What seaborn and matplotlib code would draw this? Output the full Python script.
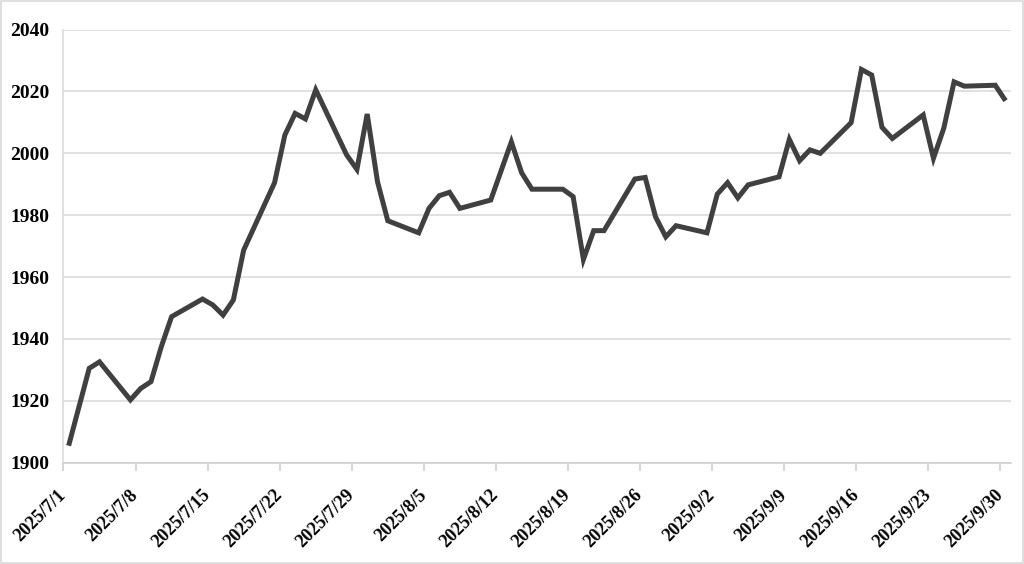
import matplotlib
matplotlib.use("Agg")
import matplotlib.pyplot as plt
import matplotlib.transforms as mtransforms
import seaborn as sns
import pandas as pd
import numpy as np

dates = [
    "2025-07-01", "2025-07-02", "2025-07-03", "2025-07-04",
    "2025-07-07", "2025-07-08", "2025-07-09", "2025-07-10", "2025-07-11",
    "2025-07-14", "2025-07-15", "2025-07-16", "2025-07-17", "2025-07-18",
    "2025-07-21", "2025-07-22", "2025-07-23", "2025-07-24", "2025-07-25",
    "2025-07-28", "2025-07-29", "2025-07-30", "2025-07-31", "2025-08-01",
    "2025-08-04", "2025-08-05", "2025-08-06", "2025-08-07", "2025-08-08",
    "2025-08-11", "2025-08-12", "2025-08-13", "2025-08-14", "2025-08-15",
    "2025-08-18", "2025-08-19", "2025-08-20", "2025-08-21", "2025-08-22",
    "2025-08-25", "2025-08-26", "2025-08-27", "2025-08-28", "2025-08-29",
    "2025-09-01", "2025-09-02", "2025-09-03", "2025-09-04", "2025-09-05",
    "2025-09-08", "2025-09-09", "2025-09-10", "2025-09-11", "2025-09-12",
    "2025-09-15", "2025-09-16", "2025-09-17", "2025-09-18", "2025-09-19",
    "2025-09-22", "2025-09-23", "2025-09-24", "2025-09-25", "2025-09-26",
    "2025-09-29", "2025-09-30",
]
values = [
    1905.5, 1918.0, 1930.5, 1932.6,
    1920.3, 1924.0, 1926.2, 1937.5, 1947.2,
    1952.9, 1951.0, 1947.7, 1952.6, 1968.7,
    1990.5, 2005.9, 2012.9, 2011.1, 2020.5,
    1999.5, 1994.8, 2012.7, 1990.8, 1978.2,
    1974.3, 1982.2, 1986.3, 1987.4, 1982.2,
    1984.9, 1994.3, 2003.7, 1993.7, 1988.4,
    1988.4, 1986.0, 1965.7, 1975.0, 1975.0,
    1991.7, 1992.2, 1979.5, 1973.0, 1976.6,
    1974.3, 1986.8, 1990.5, 1985.6, 1989.8,
    1992.4, 2004.5, 1997.6, 2001.1, 2000.0,
    2009.9, 2027.1, 2025.3, 2008.4, 2004.8,
    2012.4, 1998.4, 2008.1, 2023.1, 2021.7,
    2022.0, 2017.0,
]
tick_dates = ["2025-07-01", "2025-07-08", "2025-07-15", "2025-07-22", "2025-07-29",
              "2025-08-05", "2025-08-12", "2025-08-19", "2025-08-26", "2025-09-02",
              "2025-09-09", "2025-09-16", "2025-09-23", "2025-09-30"]
y_ticks = [1900, 1920, 1940, 1960, 1980, 2000, 2020, 2040]

sns.set_theme(style="white")
plt.rcParams["font.family"] = ["Liberation Serif", "DejaVu Serif"]

# points sit in the middle of each day slot (Excel "between tick marks")
df = pd.DataFrame({"date": pd.to_datetime(dates) + pd.Timedelta(hours=12),
                   "value": values})

fig = plt.figure(figsize=(10.24, 5.64), dpi=100)
ax = fig.add_axes([0.062, 0.1796, 0.925, 0.768])

sns.lineplot(data=df, x="date", y="value", ax=ax, color="#404040",
             linewidth=3.6, solid_joinstyle="miter", solid_capstyle="butt")

ax.set_xlim(pd.Timestamp("2025-07-01"), pd.Timestamp("2025-10-01"))
ax.set_ylim(1900, 2040)
ax.set_yticks(y_ticks)
ax.set_xticks(pd.to_datetime(tick_dates))
ax.set_xticklabels([f"{d.year}/{d.month}/{d.day}" for d in pd.to_datetime(tick_dates)],
                   rotation=45, ha="right", va="center", rotation_mode="anchor",
                   fontsize=13.2, fontweight="bold", color="black")
shift = mtransforms.ScaledTranslation(10 / 100, 0, fig.dpi_scale_trans)
for lab in ax.get_xticklabels():
    lab.set_transform(lab.get_transform() + shift)
for lab in ax.get_yticklabels():
    lab.set_fontsize(14)
    lab.set_fontweight("bold")
    lab.set_color("black")

ax.set_xlabel("")
ax.set_ylabel("")
ax.grid(axis="y", color="#dcdcdc", linewidth=1.2)
ax.grid(axis="x", visible=False)
ax.set_axisbelow(True)

for s in ["top", "right"]:
    ax.spines[s].set_visible(False)
ax.spines["left"].set_color("#dcdcdc")
ax.spines["left"].set_linewidth(1.2)
ax.spines["bottom"].set_color("#d0d0d0")
ax.spines["bottom"].set_linewidth(1.2)

ax.tick_params(axis="x", which="major", direction="out", length=6, width=1.2,
               color="#d0d0d0", pad=15.5, bottom=True)
ax.tick_params(axis="y", length=0, pad=10)

# outer chart border
fig.patches.append(plt.Rectangle((0.001, 0.001), 0.998, 0.998, transform=fig.transFigure,
                                 fill=False, edgecolor="#d9d9d9", linewidth=1.2))

fig.savefig("out.png", dpi=100)
